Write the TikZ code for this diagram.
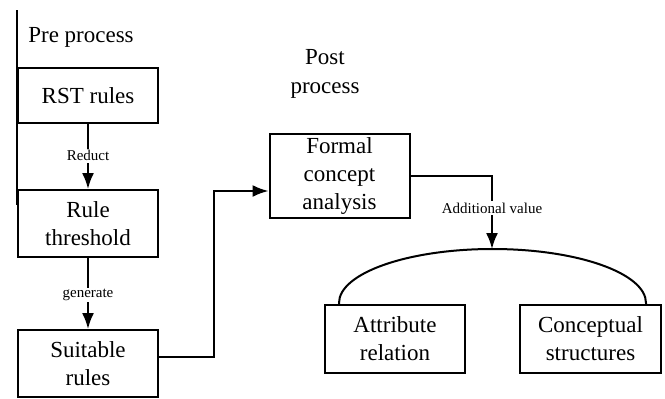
\documentclass[tikz,border=0pt]{standalone}
\usepackage{fontspec}
\setmainfont{Liberation Serif}
\usetikzlibrary{arrows.meta,calc}
\begin{document}
\begin{tikzpicture}[x=1pt,y=-1pt,
  box/.style={draw,line width=2pt,inner sep=0pt,align=center,
    font=\fontsize{23}{28}\selectfont},
  lbl/.style={fill=white,inner sep=1.5pt,font=\fontsize{15}{18}\selectfont},
  head/.style={font=\fontsize{23}{29}\selectfont,align=center},
  conn/.style={line width=2pt},
  arr/.style={line width=2pt,-{Latex[length=16pt,width=12pt]}}]
\useasboundingbox (0,0) rectangle (665,399);
% frame line
\coordinate (vt) at (17,10);
\coordinate (vb) at (17,205);
\draw[line width=1.4pt] (vt) -- (vb);
% headings
\node[head,anchor=base] (pre) at (81,42) {Pre process};
\node[head,anchor=base] (post) at (325,93) {Post\\process};
% boxes
\node[box,minimum width=140,minimum height=55] (rst) at (88,95.5) {RST rules};
\node[box,minimum width=140,minimum height=67] (thr) at (88,223.5) {Rule\\threshold};
\node[box,minimum width=140,minimum height=67] (suit) at (88,363.5) {Suitable\\rules};
\node[box,minimum width=140,minimum height=84] (fca) at (339.5,176) {Formal\\concept\\analysis};
\node[box,minimum width=140,minimum height=68] (attr) at (395,339) {Attribute\\relation};
\node[box,minimum width=141,minimum height=68] (conc) at (590.5,339) {Conceptual\\structures};
% connectors
\draw[arr] (rst) -- node[lbl,pos=0.49] {Reduct} (thr);
\draw[arr] (thr) -- node[lbl,pos=0.52] {generate} (suit);
\coordinate (bend1) at (214,191);
\draw[arr] (suit.east |- 0,357) -| (bend1) -- (fca.west |- bend1);
\coordinate (arctop) at (492,249);
\coordinate (arcL) at (339,305);
\draw[arr] (fca.east |- 0,176) -| node[lbl,pos=0.72] {Additional value} (arctop);
\draw[conn] (arcL) -- ++(0,-2) arc[start angle=180,end angle=360,x radius=153.5,y radius=54] -- ++(0,2);
\end{tikzpicture}
\end{document}
